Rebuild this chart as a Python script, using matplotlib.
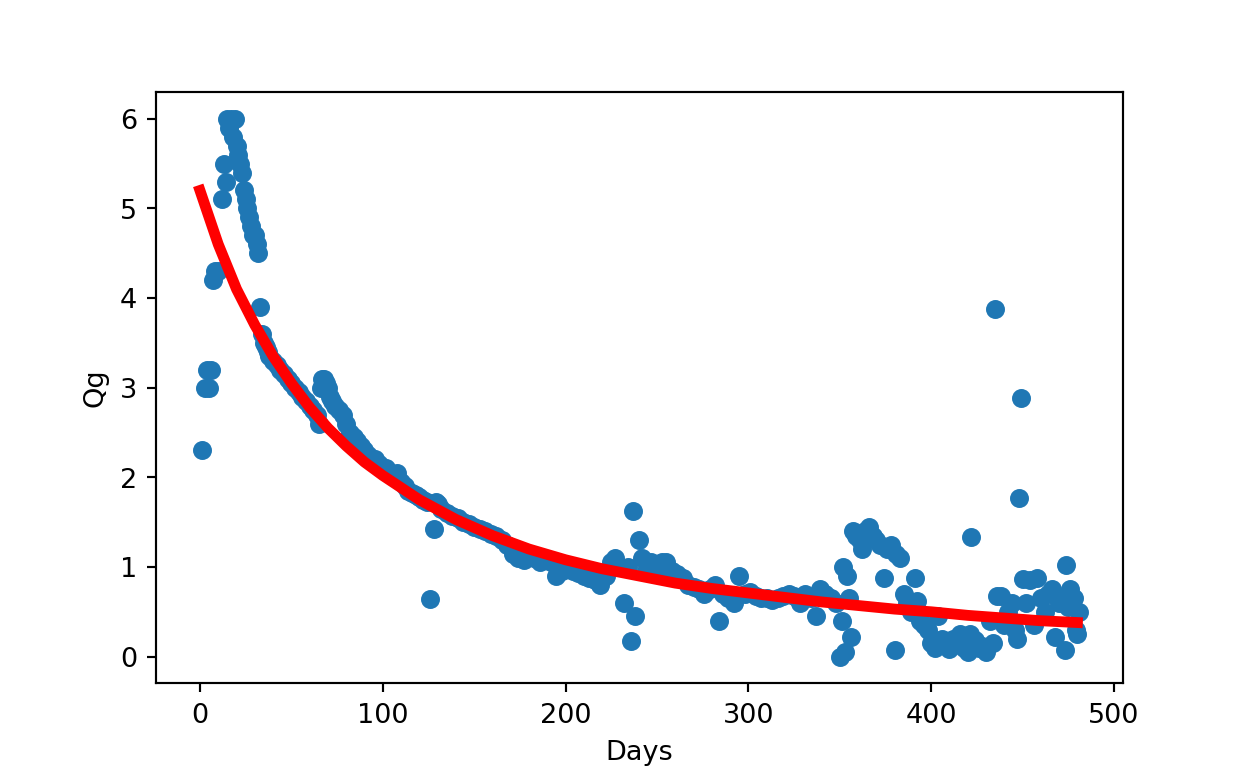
import matplotlib
matplotlib.use('Agg')
import matplotlib.pyplot as plt

# observed production
days = [1,3,4,5,6,7,8,10,12,13,14,15,16,17,18,19,20,21,22,23,24,25,26,27,28,29,30,31,32,33,34,35,36,37,38,
        40,42,44,46,48,50,52,54,56,58,60,62,64,65,66,67,68,69,70,71,72,74,76,78,80,82,84,86,88,90,92,94,96,98,
        100,102,104,106,108,110,112,114,116,118,120,122,124,126,128,129,130,132,135,138,141,144,147,150,153,156,
        159,162,165,168,171,174,177,180,183,186,189,192,195,198,201,204,207,210,213,216,219,222,225,227,230,232,
        234,236,237,238,240,242,244,247,250,253,255,258,261,264,267,270,273,276,279,282,284,286,289,292,295,298,
        301,304,307,310,313,316,319,322,325,328,331,334,337,339,342,345,348,350,351,352,353,354,355,356,357,359,
        361,362,364,366,368,370,372,374,376,378,380,381,383,385,387,389,391,392,394,396,398,400,402,404,406,408,
        410,412,414,416,418,420,421,422,424,426,428,430,432,434,435,436,438,440,442,444,446,447,448,449,450,452,
        454,456,458,460,462,464,466,468,470,472,473,474,475,476,478,479,480,481]
qg = [2.3,3.0,3.2,3.0,3.2,4.2,4.3,4.3,5.1,5.5,5.3,6.0,5.9,6.0,5.8,6.0,5.7,5.6,5.5,5.4,5.2,5.1,5.0,4.9,4.8,4.7,4.7,4.6,4.5,3.9,3.6,3.5,3.45,3.4,3.35,
      3.3,3.25,3.2,3.15,3.1,3.05,3.0,2.95,2.9,2.85,2.8,2.75,2.7,2.6,3.0,3.1,3.1,3.05,3.0,2.9,2.85,2.8,2.75,2.7,2.6,2.5,2.45,2.4,2.35,2.3,2.25,2.2,2.2,2.15,
      2.1,2.1,2.05,2.0,2.05,1.95,1.9,1.85,1.83,1.8,1.78,1.75,1.72,0.64,1.42,1.72,1.7,1.65,1.6,1.57,1.55,1.5,1.48,1.45,1.42,1.4,
      1.37,1.35,1.3,1.25,1.15,1.1,1.08,1.15,1.1,1.05,1.08,1.05,0.9,0.95,0.98,0.95,0.93,0.9,0.88,0.85,0.8,0.9,1.05,1.1,1.0,0.6,
      1.0,0.17,1.62,0.45,1.3,1.1,0.95,1.05,0.95,1.05,1.05,0.95,0.92,0.88,0.8,0.78,0.75,0.7,0.75,0.8,0.4,0.7,0.65,0.6,0.9,0.7,
      0.72,0.68,0.65,0.65,0.63,0.65,0.68,0.7,0.68,0.6,0.7,0.65,0.45,0.75,0.7,0.65,0.6,0.0,0.4,1.0,0.05,0.9,0.65,0.22,1.4,1.35,
      1.3,1.2,1.4,1.45,1.35,1.3,1.25,0.88,1.2,1.25,0.07,1.15,1.1,0.7,0.6,0.5,0.88,0.62,0.4,0.35,0.3,0.15,0.1,0.45,0.2,0.12,
      0.08,0.2,0.15,0.25,0.1,0.05,0.25,1.33,0.18,0.1,0.12,0.05,0.4,0.15,3.88,0.68,0.68,0.35,0.5,0.6,0.3,0.2,1.77,2.88,0.87,0.6,
      0.85,0.35,0.88,0.65,0.5,0.7,0.75,0.22,0.6,0.65,0.07,1.02,0.55,0.75,0.65,0.3,0.25,0.5]

# fitted decline curve
fit_days = [0,5,10,15,20,30,40,50,60,70,80,90,100,120,140,160,180,200,220,240,260,280,300,320,340,360,380,400,420,440,460,480]
fit_qg = [5.2,4.9,4.6,4.35,4.1,3.7,3.35,3.05,2.78,2.55,2.35,2.17,2.02,1.75,1.53,1.35,1.2,1.08,0.98,0.9,0.82,0.76,0.71,0.66,0.61,0.57,0.53,0.5,0.46,0.43,0.4,0.38]

fig = plt.figure(figsize=(6.4, 3.94), dpi=195)
plt.scatter(days, qg, color='#1f77b4')
plt.plot(fit_days, fit_qg, color='red', linewidth=4)
plt.xlabel('Days')
plt.ylabel('Qg')
plt.savefig('out.png')
